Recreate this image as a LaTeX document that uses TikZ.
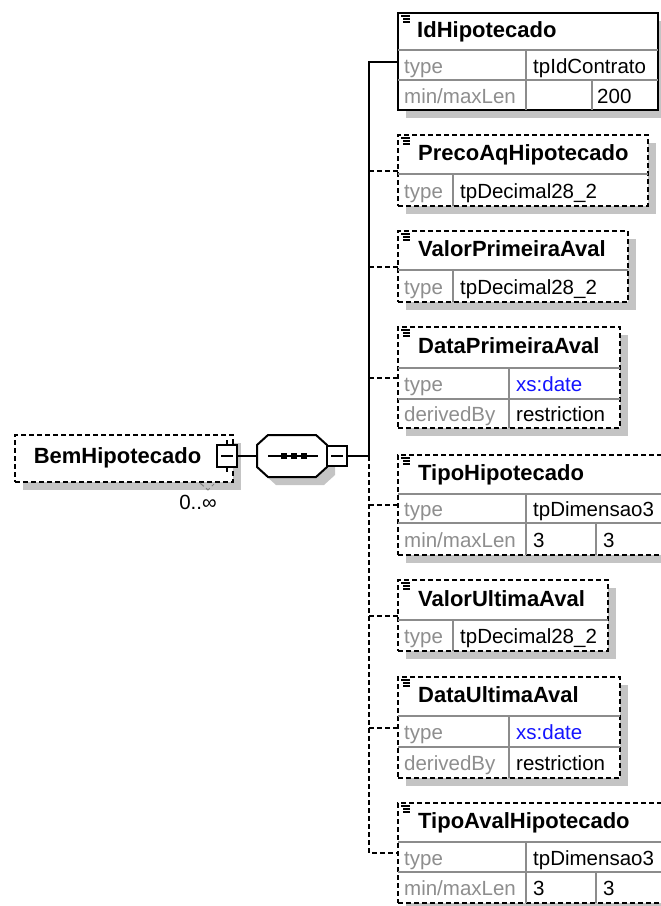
\documentclass[tikz,border=0pt]{standalone}
\usepackage{fontspec}
\usetikzlibrary{shadows,calc}
\newfontfamily\uifont{Liberation Sans}
\definecolor{shadowgray}{HTML}{C4C4C4}
\definecolor{gridgray}{HTML}{8C8C8C}
\definecolor{labelgray}{HTML}{8E8E8E}
\definecolor{xsblue}{HTML}{1414FF}
\begin{document}
\begin{tikzpicture}[x=1pt,y=-1pt,
  dsh/.style={dash pattern=on 5pt off 3pt},
  frame/.style={draw=black, line width=2pt, fill=white, inner sep=0pt, outer sep=0pt, anchor=north west,
     drop shadow={fill=shadowgray, opacity=1, shadow xshift=8pt, shadow yshift=-8pt}},
  optframe/.style={frame, dsh},
  conn/.style={draw=black, line width=2pt},
  grid/.style={draw=gridgray, line width=1.6pt},
  nm/.style={font=\uifont\bfseries\fontsize{22}{24}\selectfont, anchor=base west, inner sep=0pt, text=black},
  lb/.style={font=\uifont\fontsize{20.5}{24}\selectfont, anchor=base west, inner sep=0pt, text=labelgray},
  vl/.style={font=\uifont\fontsize{20.5}{24}\selectfont, anchor=base west, inner sep=0pt, text=black},
  icon/.style={draw=black, line width=1.1pt},
  minusbox/.style={draw=black, line width=2pt, fill=white, inner sep=0pt, outer sep=0pt}
]
\useasboundingbox (0,0) rectangle (661,906);
\clip (0,0) rectangle (661,906);

% ---------- root element ----------
\node[optframe, minimum width=218pt, minimum height=47pt] (root) at (15,435) {};
\node[nm, anchor=base] (rootlbl) at (117.5,463) {BemHipotecado};
\node[minusbox, minimum width=20pt, minimum height=22pt] (rm) at (227,456) {};
\draw[conn] (rm.north) -- ++(0,-5);
\draw[conn] (rm.south) -- ++(0,5);
\draw[line width=1.4pt] ($(rm.center)+(-6,0)$) -- ($(rm.center)+(6,0)$);
\draw[line width=1pt, dsh, gray] (200,483) -- (208,490) -- (214,484);
\node[vl, anchor=base] (mult) at (198,509) {0..∞};

% ---------- sequence compositor ----------
\node[inner sep=0pt, outer sep=0pt, minimum width=70pt, minimum height=42pt] (seq) at (292,456) {};
\fill[shadowgray] ($(seq.center)+(8,8)$) ++(-24,-21) -- ++(48,0) -- ++(11,10) -- ++(0,22) -- ++(-11,10) -- ++(-48,0) -- ++(-11,-10) -- ++(0,-22) -- cycle;
\draw[line width=2pt, fill=white] (seq.center) ++(-24,-21) -- ++(48,0) -- ++(11,10) -- ++(0,22) -- ++(-11,10) -- ++(-48,0) -- ++(-11,-10) -- ++(0,-22) -- cycle;
\draw[line width=1.4pt] ($(seq.center)+(-24,0)$) -- ($(seq.center)+(26,0)$);
\foreach \dx in {-8,2,12} \fill ($(seq.center)+(\dx,0)+(-3.2,-2.8)$) rectangle ++(6.4,5.6);
\node[minusbox, minimum width=20pt, minimum height=20pt] (sm) at (337,456) {};
\draw[line width=1.4pt] ($(sm.center)+(-6,0)$) -- ($(sm.center)+(6,0)$);
\draw[conn] (rm.east) -- (seq.west);

% ---------- child elements ----------
% b1 IdHipotecado
\node[frame, minimum width=260pt, minimum height=97pt] (b1) at (398,13) {};
\draw[grid] (398,50) -- (658,50);
\draw[grid] (398,80) -- (658,80);
\draw[grid] (526,50) -- (526,110);
\draw[grid] (592,80) -- (592,110);
\node[nm] (n1) at (417,37) {IdHipotecado};
\node[lb] (l1a) at (404,73) {type};
\node[vl] (v1a) at (533,73) {tpIdContrato};
\node[lb] (l1b) at (404,103) {min/maxLen};
\node[vl] (v1b) at (597,103) {200};

% b2 PrecoAqHipotecado
\node[optframe, minimum width=250pt, minimum height=71pt] (b2) at (398,135) {};
\draw[grid] (398,174) -- (648,174);
\draw[grid] (453,174) -- (453,206);
\node[nm] (n2) at (418,160.5) {PrecoAqHipotecado};
\node[lb] (l2a) at (404,198) {type};
\node[vl] (v2a) at (460,198) {tpDecimal28\_2};

% b3 ValorPrimeiraAval
\node[optframe, minimum width=230pt, minimum height=71pt] (b3) at (398,231) {};
\draw[grid] (398,270) -- (628,270);
\draw[grid] (453,270) -- (453,302);
\node[nm] (n3) at (418,256.5) {ValorPrimeiraAval};
\node[lb] (l3a) at (404,294) {type};
\node[vl] (v3a) at (460,294) {tpDecimal28\_2};

% b4 DataPrimeiraAval
\node[optframe, minimum width=222pt, minimum height=101pt] (b4) at (398,327) {};
\draw[grid] (398,368) -- (620,368);
\draw[grid] (398,399) -- (620,399);
\draw[grid] (509,368) -- (509,428);
\node[nm] (n4) at (418,353.5) {DataPrimeiraAval};
\node[lb] (l4a) at (404,391.5) {type};
\node[vl, text=xsblue] (v4a) at (516,391.5) {xs:date};
\node[lb] (l4b) at (404,421.5) {derivedBy};
\node[vl] (v4b) at (516,421.5) {restriction};

% b5 TipoHipotecado
\node[optframe, minimum width=270pt, minimum height=100pt] (b5) at (398,455) {};
\draw[grid] (398,494) -- (668,494);
\draw[grid] (398,523) -- (668,523);
\draw[grid] (526,494) -- (526,555);
\draw[grid] (596,523) -- (596,555);
\node[nm] (n5) at (418,480.5) {TipoHipotecado};
\node[lb] (l5a) at (404,516.5) {type};
\node[vl] (v5a) at (533,516.5) {tpDimensao3};
\node[lb] (l5b) at (404,547) {min/maxLen};
\node[vl] (v5b) at (533,547) {3};
\node[vl] (v5c) at (603,547) {3};

% b6 ValorUltimaAval
\node[optframe, minimum width=210pt, minimum height=71pt] (b6) at (398,580) {};
\draw[grid] (398,620) -- (608,620);
\draw[grid] (453,620) -- (453,651);
\node[nm] (n6) at (418,606) {ValorUltimaAval};
\node[lb] (l6a) at (404,643.5) {type};
\node[vl] (v6a) at (460,643.5) {tpDecimal28\_2};

% b7 DataUltimaAval
\node[optframe, minimum width=222pt, minimum height=101pt] (b7) at (398,677) {};
\draw[grid] (398,716) -- (620,716);
\draw[grid] (398,747) -- (620,747);
\draw[grid] (509,716) -- (509,778);
\node[nm] (n7) at (418,702.5) {DataUltimaAval};
\node[lb] (l7a) at (404,739.5) {type};
\node[vl, text=xsblue] (v7a) at (516,739.5) {xs:date};
\node[lb] (l7b) at (404,770.5) {derivedBy};
\node[vl] (v7b) at (516,770.5) {restriction};

% b8 TipoAvalHipotecado
\node[optframe, minimum width=270pt, minimum height=100pt] (b8) at (398,803) {};
\draw[grid] (398,842) -- (668,842);
\draw[grid] (398,872) -- (668,872);
\draw[grid] (526,842) -- (526,903);
\draw[grid] (596,872) -- (596,903);
\node[nm] (n8) at (418,828.5) {TipoAvalHipotecado};
\node[lb] (l8a) at (404,865) {type};
\node[vl] (v8a) at (533,865) {tpDimensao3};
\node[lb] (l8b) at (404,895.5) {min/maxLen};
\node[vl] (v8b) at (533,895.5) {3};
\node[vl] (v8c) at (603,895.5) {3};

% element icons
\foreach \b in {b1,b2,b3,b4,b5,b6,b7,b8}{
  \draw[icon] ($(\b.north west)+(3,3)$) -- ++(9,0);
  \draw[icon] ($(\b.north west)+(5,6)$) -- ++(7,0);
  \draw[icon] ($(\b.north west)+(5,9)$) -- ++(7,0);
}

% ---------- connectors ----------
\coordinate (j) at (369,456);
\draw[conn] (sm.east) -- (j);
\draw[conn] (j) |- (b1.west);
\draw[conn, dsh] (j) |- (b8.west);
\foreach \b in {b2,b3,b4,b5,b6,b7} \draw[conn, dsh] (j |- \b.west) -- (\b.west);
\end{tikzpicture}
\end{document}
